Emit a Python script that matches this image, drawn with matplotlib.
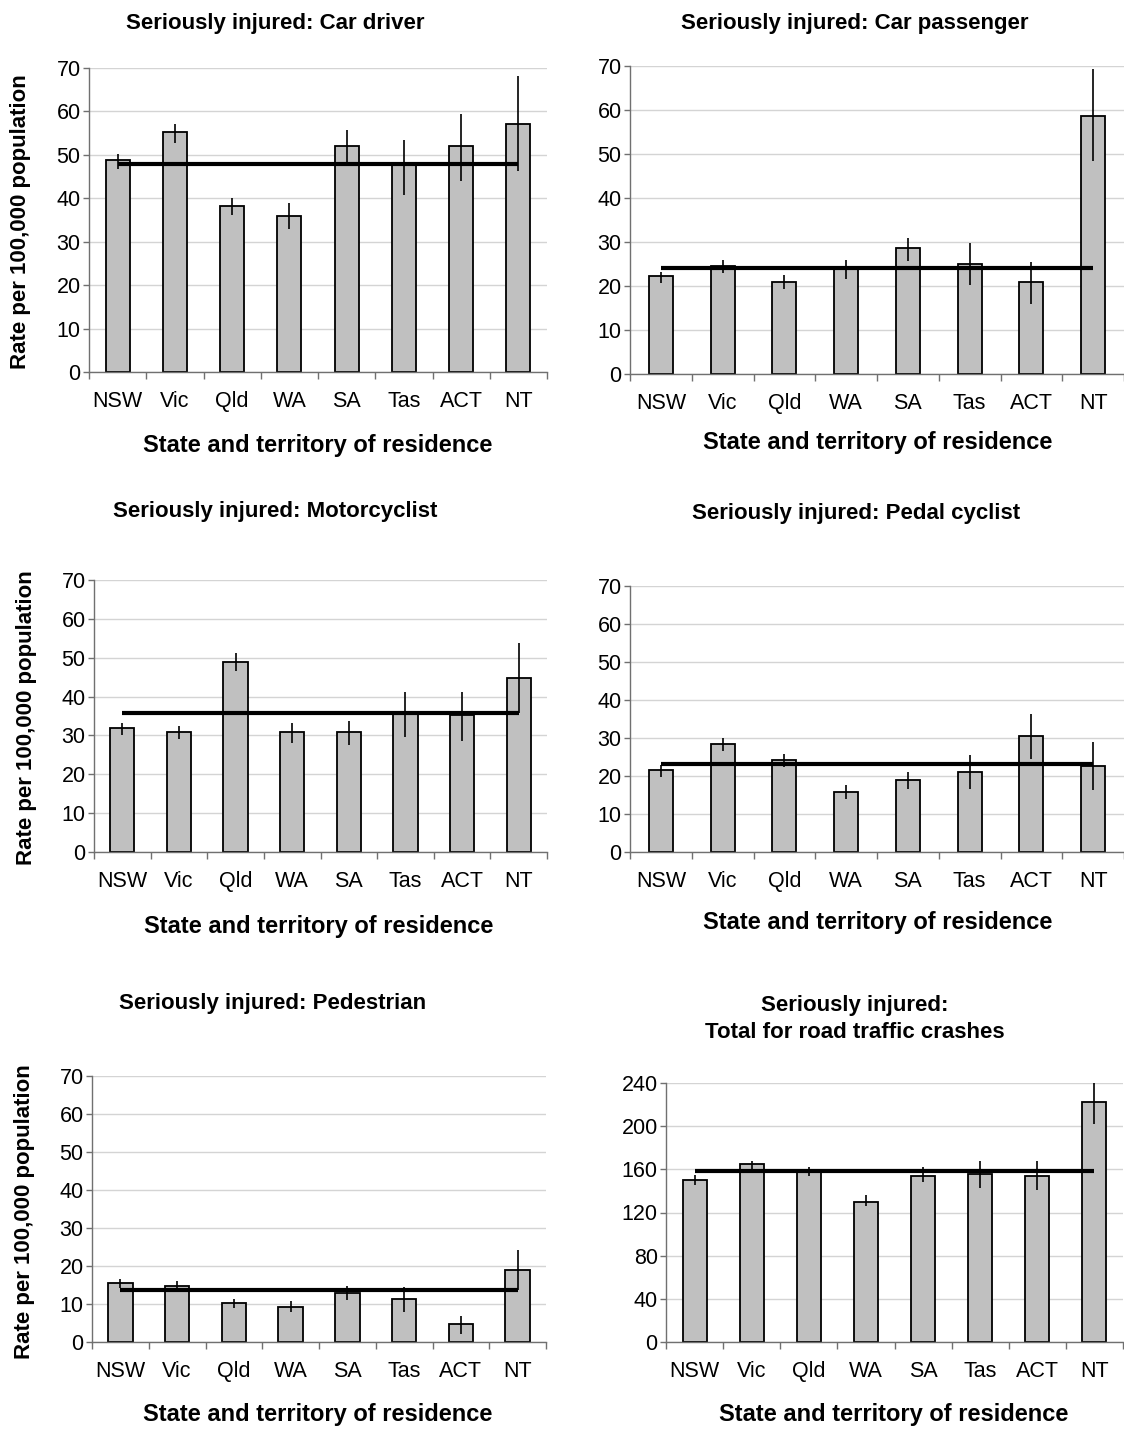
import matplotlib
matplotlib.use("Agg")
import matplotlib.pyplot as plt
import numpy as np

plt.rcParams['font.family'] = ['Liberation Sans', 'DejaVu Sans']

states = ['NSW', 'Vic', 'Qld', 'WA', 'SA', 'Tas', 'ACT', 'NT']

car_driver = [48.8, 55.2, 38.2, 35.9, 52.0, 47.6, 52.0, 57.1]
car_driver_lo = [46.8, 52.7, 36.1, 32.9, 48.2, 40.8, 44.0, 46.2]
car_driver_hi = [50.3, 57.2, 40.1, 38.8, 55.8, 53.5, 59.5, 68.2]
car_driver_avg = 47.9

car_passenger = [22.3, 24.6, 20.9, 23.8, 28.7, 25.0, 20.9, 58.6]
car_passenger_lo = [20.7, 23.0, 19.4, 21.7, 25.7, 20.2, 15.8, 48.4]
car_passenger_hi = [23.2, 26.0, 22.4, 26.0, 31.0, 29.7, 25.5, 69.3]
car_passenger_avg = 24.1

motorcyclist = [31.9, 30.8, 48.9, 30.8, 30.8, 35.6, 35.2, 44.8]
motorcyclist_lo = [30.1, 29.1, 46.6, 28.1, 27.5, 29.6, 28.6, 35.9]
motorcyclist_hi = [33.1, 32.5, 51.1, 33.1, 33.7, 41.2, 41.2, 53.7]
motorcyclist_avg = 35.7

pedal_cyclist = [21.6, 28.4, 24.1, 15.8, 18.9, 21.0, 30.5, 22.7]
pedal_cyclist_lo = [19.8, 26.6, 22.4, 14.0, 16.7, 16.7, 24.5, 16.2]
pedal_cyclist_hi = [22.8, 30.1, 25.9, 17.6, 21.1, 25.4, 36.4, 29.0]
pedal_cyclist_avg = 23.2

pedestrian = [15.4, 14.8, 10.2, 9.1, 12.8, 11.2, 4.8, 19.0]
pedestrian_lo = [14.2, 13.8, 8.9, 7.8, 11.0, 7.8, 2.1, 13.7]
pedestrian_hi = [16.6, 16.0, 11.3, 10.7, 14.8, 14.4, 6.9, 24.3]
pedestrian_avg = 13.8

total = [150.4, 165.2, 157.8, 130.0, 154.1, 155.7, 154.1, 222.7]
total_lo = [145.8, 160.6, 153.5, 125.7, 148.0, 142.4, 140.5, 202.0]
total_hi = [154.7, 167.4, 161.9, 135.9, 161.9, 167.4, 167.4, 243.1]
total_avg = 158.1

titles = ['Seriously injured: Car driver',
          'Seriously injured: Car passenger',
          'Seriously injured: Motorcyclist',
          'Seriously injured: Pedal cyclist',
          'Seriously injured: Pedestrian',
          'Seriously injured:\nTotal for road traffic crashes']
xlabel = 'State and territory of residence'
ylabel = 'Rate per 100,000 population'
yticks_small = [0, 10, 20, 30, 40, 50, 60, 70]
yticks_total = [0, 40, 80, 120, 160, 200, 240]

W, H = 1124, 1430
fig = plt.figure(figsize=(W / 100, H / 100), dpi=100)
fig.patch.set_facecolor('white')

# pixel layout: left, right, top, bottom of plot area
layout = [
    (89, 547, 68, 372),
    (630, 1124, 66, 374),
    (94, 547, 580, 852),
    (630, 1124, 586, 852),
    (92, 546, 1076, 1342),
    (666, 1123, 1083, 1342),
]
title_pos = [(275, 23), (855, 23), (275, 512), (856, 514), (273, 1004), (855, 1019)]
xlabel_pos = [(318, 445), (878, 442), (319, 926), (878, 923), (318, 1415), (894, 1415)]
ylabel_pos = [(21, 222), None, (27, 718), None, (25, 1212), None]

series = [
    (car_driver, car_driver_lo, car_driver_hi, car_driver_avg, yticks_small),
    (car_passenger, car_passenger_lo, car_passenger_hi, car_passenger_avg, yticks_small),
    (motorcyclist, motorcyclist_lo, motorcyclist_hi, motorcyclist_avg, yticks_small),
    (pedal_cyclist, pedal_cyclist_lo, pedal_cyclist_hi, pedal_cyclist_avg, yticks_small),
    (pedestrian, pedestrian_lo, pedestrian_hi, pedestrian_avg, yticks_small),
    (total, total_lo, total_hi, total_avg, yticks_total),
]
bar_w = [0.42, 0.39, 0.43, 0.39, 0.43, 0.42]

x = np.arange(len(states))
axis_col = '#707070'
for i, (vals, lo, hi, avg, yt) in enumerate(series):
    l, r, t, b = layout[i]
    ax = fig.add_axes([l / W, 1 - b / H, (r - l) / W, (b - t) / H])
    ax.set_xlim(-0.5, len(states) - 0.5)
    ax.set_ylim(yt[0], yt[-1])
    vals = np.array(vals)
    err = np.vstack([vals - np.array(lo), np.array(hi) - vals])
    ax.bar(x, vals, width=bar_w[i], color='#C0C0C0', edgecolor='black',
           linewidth=1.3, zorder=2)
    ax.errorbar(x, vals, yerr=err, fmt='none', ecolor='black',
                elinewidth=1.2, capsize=0, zorder=3)
    ax.plot(x, [avg] * len(states), color='black', linewidth=3.0, zorder=4,
            solid_capstyle='butt')
    ax.set_yticks(yt)
    ax.set_yticklabels([str(v) for v in yt], fontsize=15.5)
    ax.yaxis.grid(True, color='#D4D4D4', linewidth=1.0, zorder=0)
    ax.set_axisbelow(True)
    ax.set_xticks(x)
    ax.set_xticklabels(states, fontsize=15.5)
    ax.set_xticks(np.arange(-0.5, len(states) + 0.5, 1.0), minor=True)
    ax.tick_params(axis='x', which='major', length=0, pad=14)
    ax.tick_params(axis='x', which='minor', length=5, color=axis_col, width=1)
    ax.tick_params(axis='y', length=4.5, color=axis_col, width=1, pad=1.5)
    for s in ['top', 'right']:
        ax.spines[s].set_visible(False)
    for s in ['left', 'bottom']:
        ax.spines[s].set_color(axis_col)
        ax.spines[s].set_linewidth(1.0)
    tx, ty = title_pos[i]
    fig.text(tx / W, 1 - ty / H, titles[i], ha='center', va='center',
             fontsize=16, fontweight='bold', linespacing=1.4)
    lx, ly = xlabel_pos[i]
    fig.text(lx / W, 1 - ly / H, xlabel, ha='center', va='center',
             fontsize=17, fontweight='bold')
    if ylabel_pos[i] is not None:
        yx, yy = ylabel_pos[i]
        fig.text(yx / W, 1 - yy / H, ylabel, ha='center', va='center',
                 rotation=90, fontsize=16, fontweight='bold')

fig.savefig('out.png', dpi=100, facecolor='white')
